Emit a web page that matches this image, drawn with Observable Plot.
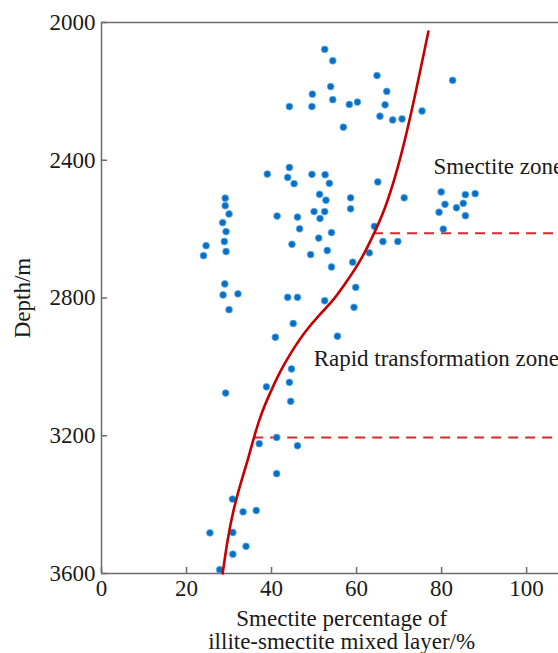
<!DOCTYPE html>
<html>
<head>
<meta charset="utf-8">
<script src="https://cdn.jsdelivr.net/npm/d3@7"></script>
<script src="https://cdn.jsdelivr.net/npm/@observablehq/plot@0.6"></script>
<style>
  html, body { margin: 0; padding: 0; background: #fff; }
  #chart { width: 558px; height: 653px; overflow: hidden; }
</style>
</head>
<body>
<div id="chart"></div>
<script>
// Sample points: smectite percentage (%) and depth (m)
const samplePct = [52.5,54.4,82.6,64.8,67.1,53.9,49.6,54.4,44.2,49.5,58.3,60.2,66.7,65.5,68.5,70.7,75.4,56.9,
  44.2,39.0,43.8,45.3,49.5,52.6,53.6,65.0,51.3,52.8,58.6,58.6,29.1,29.1,30.0,28.5,29.3,28.9,29.3,24.6,24.0,
  41.3,46.1,46.6,50.0,52.5,51.4,54.1,51.1,44.8,53.1,49.2,54.1,59.1,63.0,64.2,59.8,29.0,28.6,32.1,43.8,46.1,52.5,
  71.2,79.9,85.6,87.9,80.8,85.1,83.5,79.4,85.6,80.4,66.2,69.7,30.0,59.4,45.1,40.9,55.5,44.7,44.2,38.8,44.5,29.2,
  41.2,37.1,46.1,41.2,30.8,33.3,36.4,25.5,30.9,34.0,30.9,27.8];
const sampleDepth = [2078,2111,2168,2154,2200,2186,2208,2224,2244,2244,2238,2231,2239,2272,2283,2280,2257,2304,
  2421,2440,2450,2468,2441,2442,2467,2463,2499,2516,2509,2541,2510,2532,2556,2581,2607,2636,2665,2648,2677,
  2562,2565,2599,2549,2549,2569,2610,2626,2644,2662,2674,2710,2696,2669,2592,2769,2759,2791,2788,2798,2798,2808,
  2509,2492,2500,2497,2528,2525,2538,2551,2561,2600,2636,2636,2834,2827,2874,2914,2911,3006,3045,3058,3100,3076,
  3205,3223,3229,3310,3384,3421,3417,3482,3481,3521,3544,3589];

// Trend curve
const trendPct   = [76.9,72.7,69.6,66.6,63.8,61.0,58.2,54.6,51.5,47.5,44.9,42.1,39.6,37.6,36.1,34.4,33.4,31.1,29.6,28.5];
const trendDepth = [2026,2276,2430,2546,2621,2691,2743,2807,2845,2903,2952,3010,3077,3135,3193,3272,3310,3408,3504,3600];

// Zone boundaries (dashed)
const boundaryDepth = [2612, 3205];
const boundaryStartPct = [64.0, 35.8];
const xMax = 107.5;

// Zone labels
const zoneLabels = ["Smectite zone", "Rapid transformation zone"];
const zoneLabelPct = [78.1, 49.9];
const zoneLabelDepth = [2418, 2975];

// Ticks
const xTicks = [0, 20, 40, 60, 80, 100];
const yTicks = [2000, 2400, 2800, 3200, 3600];

const xTitle1 = "Smectite percentage of";
const xTitle2 = "illite-smectite mixed layer/%";
const yTitle = "Depth/m";

const samples = samplePct.map((p, i) => ({pct: p, depth: sampleDepth[i]}));
const trend = trendPct.map((p, i) => ({pct: p, depth: trendDepth[i]}));
const boundaries = boundaryDepth.map((d, i) => ({depth: d, x1: boundaryStartPct[i], x2: xMax}));
const zones = zoneLabels.map((t, i) => ({text: t, pct: zoneLabelPct[i], depth: zoneLabelDepth[i]}));

const font = "'Liberation Serif', 'Times New Roman', serif";
const axisColor = "#6b6b6b";
const textColor = "#1a1a1a";

const chart = Plot.plot({
  width: 558,
  height: 653,
  marginLeft: 101,
  marginRight: 0,
  marginTop: 22,
  marginBottom: 80,
  style: {fontFamily: font, fontSize: "23px", background: "#fff", overflow: "visible"},
  x: {domain: [0, xMax]},
  y: {domain: [2000, 3600], reverse: true},
  marks: [
    // frame lines
    Plot.ruleY([2000], {stroke: axisColor, strokeWidth: 1.5}),
    Plot.ruleY([3600], {stroke: axisColor, strokeWidth: 1.5}),
    Plot.ruleX([0], {stroke: axisColor, strokeWidth: 1.5}),
    // inward ticks
    Plot.ruleX(xTicks, {x: d => d, insetTop: 545, stroke: axisColor, strokeWidth: 1.5}),
    Plot.ruleY(yTicks, {y: d => d, insetRight: 451, stroke: axisColor, strokeWidth: 1.5}),
    // tick labels
    Plot.axisX(xTicks, {anchor: "bottom", tickSize: 0, tickPadding: 6, label: null, tickFormat: d => String(d),
      fontSize: 23, fontFamily: font, fill: textColor}),
    Plot.axisY(yTicks, {anchor: "left", tickSize: 0, tickPadding: 6, label: null, tickFormat: d => String(d),
      fontSize: 23, fontFamily: font, fill: textColor}),
    // boundaries
    Plot.ruleY(boundaries, {y: "depth", x1: "x1", x2: "x2", stroke: "#d22b2b", strokeWidth: 2, strokeDasharray: "10,7"}),
    // samples
    Plot.dot(samples, {x: "pct", y: "depth", r: 3.4, fill: "#0a6ec4", stroke: "#5aaeea", strokeWidth: 0.8}),
    // trend curve
    Plot.line(trend, {x: "pct", y: "depth", curve: "basis", stroke: "#c40000", strokeWidth: 2.6}),
    // zone labels
    Plot.text(zones, {x: "pct", y: "depth", text: "text", textAnchor: "start", lineAnchor: "middle",
      fontSize: 23, fontFamily: font, fill: textColor}),
    // axis titles
    Plot.text([xTitle1], {x: 56.5, y: 3600, dy: 45, text: d => d, textAnchor: "middle", lineAnchor: "middle",
      fontSize: 23, fontFamily: font, fill: textColor}),
    Plot.text([xTitle2], {x: 56.5, y: 3600, dy: 68, text: d => d, textAnchor: "middle", lineAnchor: "middle",
      fontSize: 23, fontFamily: font, fill: textColor}),
    Plot.text([yTitle], {y: 2800, frameAnchor: "left", dx: -79, rotate: -90, text: d => d, textAnchor: "middle",
      lineAnchor: "middle", fontSize: 23, fontFamily: font, fill: textColor})
  ]
});
document.getElementById("chart").appendChild(chart);
</script>
</body>
</html>
